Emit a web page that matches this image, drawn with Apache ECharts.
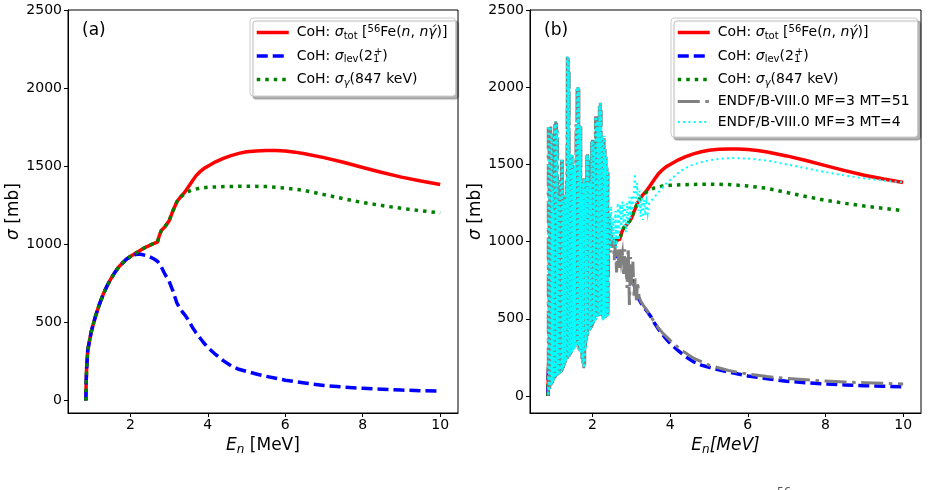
<!DOCTYPE html>
<html>
<head>
<meta charset="utf-8">
<script src="https://cdn.jsdelivr.net/npm/echarts@6/dist/echarts.min.js"></script>
<style>
html, body { margin: 0; padding: 0; background: #fff; }
#chart { width: 928px; height: 490px; }
</style>
</head>
<body>
<div id="chart"></div>
<script>
// energies in MeV, cross sections in mb
var cohTotal = [[0.85,0],[0.86,120],[0.87,200],[0.9,320],[0.95,390],[1.0,450],[1.1,540],[1.2,615],[1.3,680],[1.4,735],[1.5,780],[1.6,820],[1.7,855],[1.8,880],[1.9,905],[2.0,922],[2.1,938],[2.2,952],[2.3,968],[2.4,982],[2.5,993],[2.6,1005],[2.7,1015],[2.75,1058],[2.8,1088],[2.9,1115],[3.0,1150],[3.1,1215],[3.2,1272],[3.3,1305],[3.4,1332],[3.5,1368],[3.6,1405],[3.7,1440],[3.8,1465],[3.9,1485],[4.0,1500],[4.2,1528],[4.4,1550],[4.6,1568],[4.8,1582],[5.0,1592],[5.25,1598],[5.5,1600],[5.75,1600],[6.0,1597],[6.25,1590],[6.5,1580],[7.0,1555],[7.5,1525],[8.0,1492],[8.5,1460],[9.0,1430],[9.5,1405],[10.0,1383]];
var cohLevel = [[0.85,0],[0.86,120],[0.87,200],[0.9,320],[0.95,390],[1.0,450],[1.1,540],[1.2,615],[1.3,680],[1.4,735],[1.5,780],[1.6,820],[1.7,855],[1.8,880],[1.9,905],[2.0,920],[2.1,932],[2.2,938],[2.3,935],[2.4,928],[2.5,920],[2.6,908],[2.7,892],[2.8,855],[2.9,805],[3.0,765],[3.1,700],[3.2,625],[3.3,580],[3.4,550],[3.5,515],[3.6,470],[3.7,432],[3.8,400],[3.9,368],[4.0,340],[4.2,295],[4.4,255],[4.6,222],[4.8,200],[5.0,186],[5.25,170],[5.5,155],[6.0,130],[6.5,112],[7.0,96],[7.5,86],[8.0,78],[8.5,72],[9.0,67],[9.5,63],[10.0,60]];
var cohGamma = [[0.85,0],[0.86,120],[0.87,200],[0.9,320],[0.95,390],[1.0,450],[1.1,540],[1.2,615],[1.3,680],[1.4,735],[1.5,780],[1.6,820],[1.7,855],[1.8,880],[1.9,905],[2.0,922],[2.1,938],[2.2,952],[2.3,968],[2.4,982],[2.5,993],[2.6,1005],[2.7,1015],[2.75,1058],[2.8,1088],[2.9,1115],[3.0,1150],[3.1,1215],[3.2,1272],[3.3,1303],[3.4,1322],[3.5,1338],[3.6,1348],[3.8,1360],[4.0,1365],[4.5,1370],[5.0,1372],[5.5,1370],[6.0,1360],[6.5,1345],[7.0,1318],[7.5,1292],[8.0,1267],[8.5,1248],[9.0,1230],[9.5,1215],[10.0,1201]];

// ENDF resonance region, rows of [E, upper, lower]
var endfResonances = [[0.86,1740,0],[0.88,1750,30],[0.9,1520,45],[0.925,1745,60],[0.95,1700,75],[0.975,1350,85],[1.0,1200,100],[1.025,1760,115],[1.05,1780,120],[1.075,1770,130],[1.1,1720,135],[1.125,1250,140],[1.15,1300,145],[1.175,1400,150],[1.2,1540,155],[1.225,1530,165],[1.25,1250,180],[1.275,1300,195],[1.3,1270,210],[1.325,1400,225],[1.35,2200,240],[1.375,2190,250],[1.4,2100,255],[1.425,1570,265],[1.45,1575,275],[1.475,1560,285],[1.5,1450,290],[1.525,1480,300],[1.55,1500,310],[1.575,1760,320],[1.6,2000,340],[1.625,2010,330],[1.65,1990,300],[1.675,1750,290],[1.7,1745,280],[1.725,1300,240],[1.75,1380,210],[1.775,1410,180],[1.8,1400,200],[1.825,1340,300],[1.85,1560,360],[1.875,1565,390],[1.9,1540,410],[1.925,1380,425],[1.95,1390,430],[1.975,1650,440],[2.0,1660,455],[2.025,1640,470],[2.05,1600,480],[2.075,1810,490],[2.1,1812,495],[2.125,1780,505],[2.15,1720,515],[2.175,1880,525],[2.2,1900,530],[2.225,1850,520],[2.25,1690,500],[2.275,1680,490],[2.3,1685,495],[2.325,1600,505],[2.35,1550,510],[2.375,1480,515],[2.4,1450,520]];
var endfMt51Tail = [[2.42,1000],[2.44,1180],[2.46,930],[2.48,1100],[2.5,960],[2.53,1030],[2.56,880],[2.59,990],[2.62,800],[2.65,960],[2.68,830],[2.71,950],[2.74,870],[2.77,920],[2.8,790],[2.83,950],[2.86,860],[2.89,700],[2.92,960],[2.95,590],[2.98,900],[3.01,720],[3.04,870],[3.07,650],[3.1,760],[3.13,620],[3.16,740],[3.2,640],[3.25,610],[3.3,590],[3.4,555],[3.5,515],[3.6,475],[3.7,440],[3.8,410],[4.0,360],[4.3,295],[4.6,245],[5.0,200],[5.5,165],[6.0,142],[6.5,126],[7.0,114],[7.5,105],[8.0,97],[8.5,91],[9.0,86],[9.5,82],[10.0,78]];
var endfMt4Tail = [[2.42,1050],[2.44,1180],[2.46,960],[2.48,1230],[2.5,1000],[2.53,1150],[2.56,980],[2.59,1200],[2.62,960],[2.65,1250],[2.68,1010],[2.71,1240],[2.74,1080],[2.77,1260],[2.8,1100],[2.83,1240],[2.86,1060],[2.89,1250],[2.92,1110],[2.95,1290],[2.98,1150],[3.01,1300],[3.04,1200],[3.07,1330],[3.09,1440],[3.12,1250],[3.15,1380],[3.18,1200],[3.21,1330],[3.24,1160],[3.27,1290],[3.3,1140],[3.33,1270],[3.36,1170],[3.39,1250],[3.42,1180],[3.46,1250],[3.6,1290],[3.72,1325],[3.85,1365],[4.0,1400],[4.25,1455],[4.5,1490],[4.75,1512],[5.0,1526],[5.3,1537],[5.6,1541],[6.0,1538],[6.5,1525],[7.0,1500],[7.5,1475],[8.0,1450],[8.5,1428],[9.0,1410],[9.5,1395],[10.0,1383]];

var xTicks = [2, 4, 6, 8, 10];
var yTicks = [0, 500, 1000, 1500, 2000, 2500];

var FONT = 'DejaVu Sans';

// resonance rows -> vertical zigzag path
function zigzag(rows) {
    var out = [];
    rows.forEach(function (r) {
        out.push([r[0], r[1]]);
        out.push([r[0], r[2]]);
    });
    return out;
}

var rich = {
    t: { fontFamily: FONT, fontSize: 14, color: '#000', lineHeight: 18 },
    i: { fontFamily: FONT, fontSize: 14, fontStyle: 'italic', color: '#000', lineHeight: 18 },
    sub: { fontFamily: FONT, fontSize: 10, color: '#000', padding: [7, 0, 0, 0], lineHeight: 18 },
    subi: { fontFamily: FONT, fontSize: 10, fontStyle: 'italic', color: '#000', padding: [7, 0, 0, 0], lineHeight: 18 },
    sub1: { fontFamily: FONT, fontSize: 10, color: '#000', padding: [7, 0, 0, 0], width: 1, lineHeight: 18 },
    sup: { fontFamily: FONT, fontSize: 10, color: '#000', padding: [0, 0, 7, 0], lineHeight: 18 }
};

var nameRich = {
    t: { fontFamily: FONT, fontSize: 17, color: '#000' },
    i: { fontFamily: FONT, fontSize: 17, fontStyle: 'italic', color: '#000' },
    sub: { fontFamily: FONT, fontSize: 12, color: '#000', padding: [8, 0, 0, 0] },
    subi: { fontFamily: FONT, fontSize: 12, fontStyle: 'italic', color: '#000', padding: [8, 0, 0, 0] }
};

var legendText = {
    tot: '{t|CoH: }{i|σ}{sub|tot}{t| [}{sup|56}{t|Fe(}{i|n}{t|, }{i|nγ\u0301}{t|)]}',
    lev: '{t|CoH: }{i|σ}{sub|lev}{t|(2}{sub1|1}{sup|+}{t|)}',
    gam: '{t|CoH: }{i|σ}{subi|γ}{t|(847 keV)}',
    mt51: '{t|ENDF/B-VIII.0 MF=3 MT=51}',
    mt4: '{t|ENDF/B-VIII.0 MF=3 MT=4}'
};
var legendWidth = { tot: 3.5, lev: 3.5, gam: 3.5, mt51: 3, mt4: 2 };

function legendBox(left, names) {
    return {
        orient: 'vertical',
        left: left,
        top: 18,
        padding: [6, 8, 8, 5],
        itemWidth: 32,
        itemHeight: 14,
        itemGap: 6.5,
        backgroundColor: '#fff',
        borderColor: '#cccccc',
        borderWidth: 1,
        borderRadius: 3,
        shadowColor: 'rgba(0,0,0,0.3)',
        shadowOffsetX: 3,
        shadowOffsetY: 3,
        shadowBlur: 1,
        selectedMode: false,
        itemStyle: { color: 'rgba(0,0,0,0)', borderColor: 'rgba(0,0,0,0)', borderWidth: 0, opacity: 0 },
        data: names.map(function (n) {
            return { name: n, lineStyle: { width: legendWidth[n] } };
        }),
        formatter: function (name) { return legendText[name]; },
        textStyle: { fontFamily: FONT, fontSize: 14, color: '#000', padding: [0, 0, 0, 3], rich: rich }
    };
}

function plain(v) { return String(v); }

function xAxis(idx, nameStr) {
    return {
        type: 'value', gridIndex: idx, min: 0.39, max: 10.46,
        name: nameStr, nameLocation: 'middle', nameGap: 21,
        nameTextStyle: { rich: nameRich },
        axisLine: { show: true, onZero: false, lineStyle: { color: '#000', width: 1 } },
        axisTick: { show: true, length: 4, customValues: xTicks, lineStyle: { color: '#000' } },
        axisLabel: { customValues: xTicks, formatter: plain, fontFamily: FONT, fontSize: 14, color: '#000', margin: 5 },
        splitLine: { show: false }
    };
}

function yAxis(idx, minVal) {
    return {
        type: 'value', gridIndex: idx, min: minVal, max: 2500,
        name: '{i|σ}{t| [mb]}', nameLocation: 'middle', nameGap: 42,
        nameTextStyle: { rich: nameRich },
        axisLine: { show: true, onZero: false, lineStyle: { color: '#000', width: 1 } },
        axisTick: { show: true, length: 4, customValues: yTicks, lineStyle: { color: '#000' } },
        axisLabel: { customValues: yTicks, formatter: plain, fontFamily: FONT, fontSize: 14, color: '#000', margin: 6 },
        splitLine: { show: false }
    };
}

function line(name, idx, data, color, width, type, z) {
    return {
        name: name, type: 'line', xAxisIndex: idx, yAxisIndex: idx,
        data: data, symbol: 'none', showSymbol: false, smooth: false,
        clip: true, z: z,
        lineStyle: { color: color, width: width, type: type, cap: 'butt', join: 'miter' },
        itemStyle: { color: color },
        emphasis: { disabled: true }
    };
}

var red = '#ff0000', blue = '#0000ff', green = '#008000', gray = '#808080', cyan = '#00ffff';
var dashBlue = [11, 5], dotGreen = [3.5, 5], dashDotGray = [22, 5.6, 3.5, 5.6], dotCyan = [2, 3.3];

var chart = echarts.init(document.getElementById('chart'));
chart.setOption({
    animation: false,
    backgroundColor: '#fff',
    grid: [
        { left: 68, top: 10, width: 390, height: 403, show: true, borderColor: '#000', borderWidth: 1 },
        { left: 530, top: 10, width: 391, height: 403, show: true, borderColor: '#000', borderWidth: 1 }
    ],
    xAxis: [
        xAxis(0, '{i|E}{subi|n}{t| [MeV]}'),
        xAxis(1, '{i|E}{subi|n}{i|[MeV]}')
    ],
    yAxis: [yAxis(0, -80), yAxis(1, -110)],
    legend: [
        legendBox(250, ['tot', 'lev', 'gam']),
        legendBox(671, ['tot', 'lev', 'gam', 'mt51', 'mt4'])
    ],
    graphic: [
        { type: 'text', left: 82, top: 22, style: { text: '(a)', font: '17px "DejaVu Sans"', fill: '#000' } },
        { type: 'text', left: 544, top: 22, style: { text: '(b)', font: '17px "DejaVu Sans"', fill: '#000' } },
        { type: 'text', left: 777, top: 487, style: { text: '56', font: '11px "DejaVu Sans"', fill: '#555' } }
    ],
    series: [
        line('tot', 0, cohTotal, red, 3.5, 'solid', 2),
        line('lev', 0, cohLevel, blue, 3.5, dashBlue, 3),
        line('gam', 0, cohGamma, green, 3.5, dotGreen, 4),
        line('tot', 1, cohTotal, red, 3.5, 'solid', 2),
        line('lev', 1, cohLevel, blue, 3.5, dashBlue, 3),
        line('gam', 1, cohGamma, green, 3.5, dotGreen, 4),
        line('mt51', 1, zigzag(endfResonances).concat(endfMt51Tail), gray, 3, dashDotGray, 5),
        line('mt4', 1, zigzag(endfResonances).concat(endfMt4Tail), cyan, 2, dotCyan, 6)
    ]
});
</script>
</body>
</html>
